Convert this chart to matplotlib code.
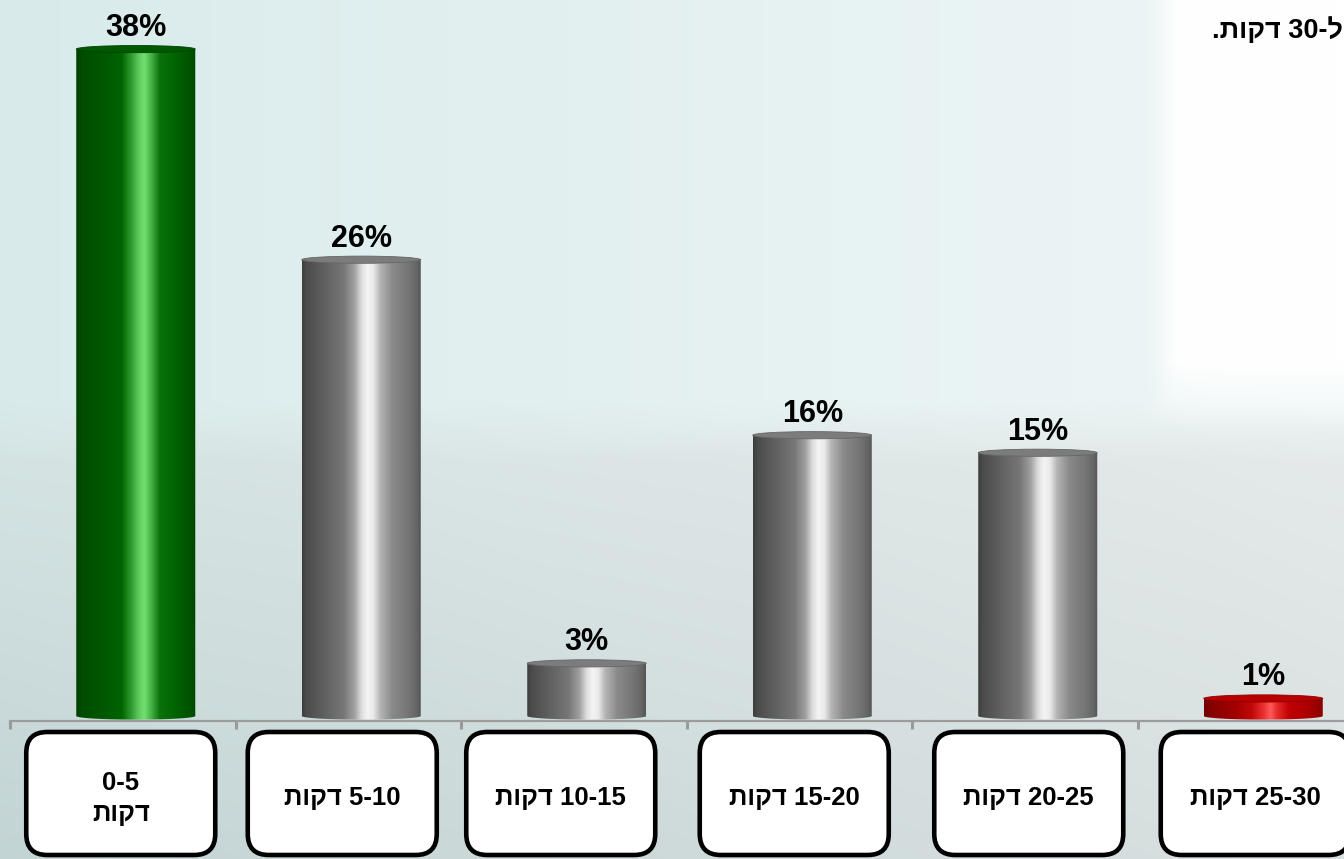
import re
import numpy as np
import matplotlib
matplotlib.use("Agg")
import matplotlib.pyplot as plt
from matplotlib.colors import LinearSegmentedColormap, to_rgb
from matplotlib.patches import Polygon, Ellipse, FancyBboxPatch

# ---------------- data ----------------
categories = ["0-5\nדקות", "5-10 דקות", "10-15 דקות", "15-20 דקות", "20-25 דקות", "25-30 דקות"]
values = [38, 26, 3, 16, 15, 1]
value_labels = ["38%", "26%", "3%", "16%", "15%", "1%"]
bar_styles = ["green", "grey", "grey", "grey", "grey", "red"]
title_fragment = "ל-30 דקות."

FONT = ['Liberation Sans', 'DejaVu Sans']

HEB = re.compile(r'[\u0590-\u05FF]')


def visual(s):
    """Reorder logical RTL text into visual (left-to-right) order."""
    lines = []
    for line in s.split("\n"):
        toks = re.findall(r'[\u0590-\u05FF]+|[0-9]+(?:-[0-9]+)*|\s+|.', line)
        out = [t[::-1] if HEB.search(t) else t for t in reversed(toks)]
        lines.append("".join(out))
    return "\n".join(lines)


W, H, DPI = 1344, 859, 100
fig = plt.figure(figsize=(W / DPI, H / DPI), dpi=DPI)

# ---------------- background ----------------
bg = fig.add_axes([0, 0, 1, 1], zorder=0)
bg.axis('off')
px = np.arange(W)[None, :].astype(float)
py = np.arange(H)[:, None].astype(float)
xf = px / W
sky_l = np.array(to_rgb('#d8eaea'))
sky_r = np.array(to_rgb('#eef6f6'))
sky = sky_l + (sky_r - sky_l) * (xf[..., None] ** 0.8)
sky = np.broadcast_to(sky, (H, W, 3))
sea_top_l = np.array(to_rgb('#d6e4e4'))
sea_top_r = np.array(to_rgb('#e6eaea'))
sea_bot_l = np.array(to_rgb('#c3d4d4'))
sea_bot_r = np.array(to_rgb('#d9e0e0'))
yf = np.clip((py - 420) / (H - 420), 0, 1)[..., None]
sea_t = sea_top_l + (sea_top_r - sea_top_l) * xf[..., None]
sea_b = sea_bot_l + (sea_bot_r - sea_bot_l) * xf[..., None]
sea = sea_t + (sea_b - sea_t) * yf
hz = np.clip((py - 400) / 60, 0, 1)[..., None]
img = sky * (1 - hz) + sea * hz
wpanel = (1 / (1 + np.exp(-(px - 1163) / 5))) * np.clip((430 - py) / 70, 0, 1)
img = img * (1 - wpanel[..., None]) + wpanel[..., None] * 1.0
bg.imshow(img, extent=[0, 1, 0, 1], aspect='auto', origin='upper',
          transform=bg.transAxes)
bg.set_xlim(0, 1)
bg.set_ylim(0, 1)

# ---------------- main axes ----------------
cat_w = 225.5
ax_left = 10
ax_bottom_px = 721
zero_px = 716
scale = 17.55
ax = fig.add_axes([ax_left / W, (H - ax_bottom_px) / H, 6 * cat_w / W, ax_bottom_px / H], zorder=1)
ax.patch.set_alpha(0)
ylo = -(ax_bottom_px - zero_px) / scale
yhi = zero_px / scale

cmaps = {
    "grey": LinearSegmentedColormap.from_list("g", [
        (0.0, '#3e3e3e'), (0.04, '#4c4c4c'), (0.2, '#626262'), (0.35, '#777777'),
        (0.44, '#a0a0a0'), (0.5, '#dcdcdc'), (0.55, '#f4f4f4'), (0.6, '#eaeaea'),
        (0.66, '#b4b4b4'), (0.76, '#8a8a8a'), (0.9, '#747474'), (0.97, '#646464'),
        (1.0, '#555555')]),
    "green": LinearSegmentedColormap.from_list("gr", [
        (0.0, '#004000'), (0.05, '#004c00'), (0.25, '#005a00'), (0.38, '#006400'),
        (0.46, '#2f9a2f'), (0.52, '#5cc85c'), (0.57, '#72e072'), (0.62, '#4cb84c'),
        (0.7, '#0a720a'), (0.85, '#006000'), (0.97, '#005000'), (1.0, '#004400')]),
    "red": LinearSegmentedColormap.from_list("r", [
        (0.0, '#700000'), (0.05, '#850000'), (0.25, '#a00000'), (0.4, '#c00808'),
        (0.5, '#e83030'), (0.56, '#ff5a5a'), (0.62, '#e42828'), (0.72, '#c00000'),
        (0.9, '#a80000'), (1.0, '#8a0000')]),
}
top_colors = {"grey": '#7c7c7c', "green": '#005800', "red": '#b80000'}
top_edges = {"grey": '#666666', "green": '#004400', "red": '#900000'}

x = np.arange(len(values))
bar_offset = 13 / cat_w
bar_w = 119 / cat_w
b = 3.6 / scale  # half-height of cylinder ellipse (data units)

bars = ax.bar(x + bar_offset, values, width=bar_w, color='none', edgecolor='none', zorder=2)
grad = np.linspace(0, 1, 512)[None, :]
for rect, style, val, lab in zip(bars, bar_styles, values, value_labels):
    x0 = rect.get_x()
    w = rect.get_width()
    v = rect.get_height()
    xc = x0 + w / 2
    t = np.linspace(np.pi, 2 * np.pi, 80)
    verts = [(x0, v)] + [(xc + w / 2 * np.cos(tt), b * np.sin(tt)) for tt in t] + [(x0 + w, v)]
    clip = Polygon(verts, closed=True, facecolor='none', edgecolor='none', transform=ax.transData)
    ax.add_patch(clip)
    im = ax.imshow(grad, cmap=cmaps[style], extent=[x0, x0 + w, -b, v], aspect='auto',
                   origin='lower', interpolation='bilinear', zorder=2)
    im.set_clip_path(clip)
    ax.add_patch(Ellipse((xc, v), w, 2 * b, facecolor=top_colors[style],
                         edgecolor=top_edges[style], lw=0.6, zorder=3))
    ax.annotate(lab, (xc, v), xytext=(0, 13 * 72 / DPI), textcoords='offset points',
                ha='center', va='baseline', fontsize=22, fontweight='bold',
                family=FONT, color='black', zorder=4)

ax.set_xlim(-0.5, len(values) - 0.5)
ax.set_ylim(ylo, yhi)
ax.set_xticks(np.arange(-0.5, len(values), 1.0))
ax.tick_params(axis='x', length=6, width=2.2, color='#9a9a9a', labelbottom=False, direction='out')
ax.set_yticks([])
for s in ['top', 'left', 'right']:
    ax.spines[s].set_visible(False)
ax.spines['bottom'].set_color('#9c9c9c')
ax.spines['bottom'].set_linewidth(1.6)

# ---------------- category boxes ----------------
box_w = 189
box_top = 732
box_bot = 855
lw_px = 4.6
box_shift = [-2, -6, -13, -5, 4, 5]  # pixel nudges of the label boxes
for i, cat in enumerate(categories):
    cx = ax.transData.transform((i, 0))[0] + box_shift[i]
    x0 = (cx - box_w / 2) / DPI
    y0 = (H - box_bot) / DPI
    fb = FancyBboxPatch((x0, y0), box_w / DPI, (box_bot - box_top) / DPI,
                        boxstyle="round,pad=0,rounding_size=0.21",
                        transform=fig.dpi_scale_trans, facecolor='white',
                        edgecolor='black', linewidth=lw_px * 72 / DPI, zorder=5)
    fig.add_artist(fb)
    fig.text(cx / DPI, (H - 798.5) / DPI, visual(cat), transform=fig.dpi_scale_trans,
             ha='center', va='center', fontsize=18.5, fontweight='bold', family=FONT,
             linespacing=1.42, zorder=6)

# ---------------- title fragment (top right, clipped) ----------------
fig.text(1212 / DPI, (H - 38) / DPI, visual(title_fragment), transform=fig.dpi_scale_trans,
         ha='left', va='baseline', fontsize=19.5, fontweight='bold', family=FONT, zorder=6)

fig.savefig("out.png", dpi=DPI)
